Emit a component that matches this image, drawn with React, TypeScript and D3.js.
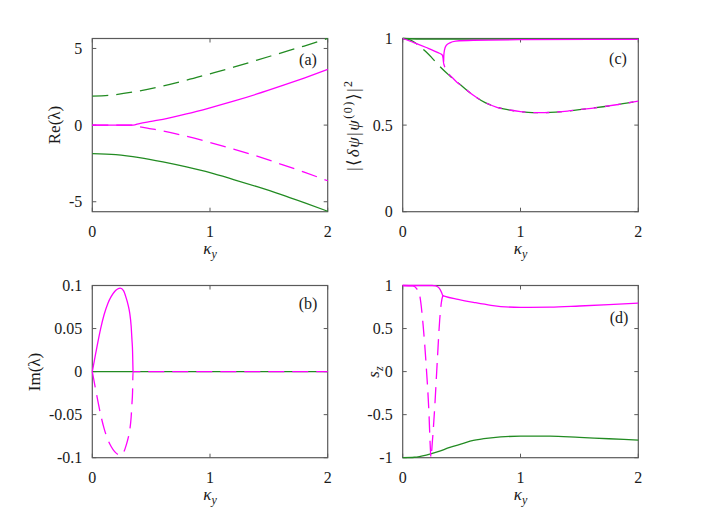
import * as d3 from 'd3'

// colours and fonts of the original plot
const MAGENTA = '#ff00ff'
const GREEN = '#228b22'
const FRAME = '#5a5a5a'
const FONT = "'Liberation Serif', 'Times New Roman', serif"
const INK = '#1a1a1a'

// shared x axis
const xTicks = [0, 1, 2]

// (a) Re(lambda)
const kReGreen = [0, 0.2, 0.4, 0.6, 0.8, 1.0, 1.2, 1.4, 1.6, 1.8, 2.0]
const reGreenUp = [1.89, 1.99, 2.23, 2.55, 2.93, 3.35, 3.78, 4.24, 4.7, 5.16, 5.65]
const reGreenDown = [-1.86, -1.93, -2.12, -2.4, -2.73, -3.1, -3.55, -4.02, -4.52, -5.06, -5.62]
const kReMag = [0, 0.1, 0.2, 0.3, 0.347, 0.4, 0.5, 0.6, 0.8, 1.0, 1.2, 1.4, 1.6, 1.8, 2.0]
const reMagUp = [0, 0, 0, 0, 0, 0.1, 0.24, 0.38, 0.73, 1.13, 1.56, 2.03, 2.54, 3.07, 3.63]
const reMagDown = [0, 0, 0, 0, 0, -0.1, -0.24, -0.38, -0.73, -1.13, -1.56, -2.03, -2.54, -3.07, -3.63]
const yTicksA = [-5, 0, 5]

// (b) Im(lambda)
const kImMag = [0, 0.03, 0.071, 0.1, 0.133, 0.16, 0.19, 0.215, 0.238, 0.265, 0.289, 0.305, 0.318, 0.33, 0.337, 0.342, 0.346]
const imMagUp = [0, 0.022, 0.05, 0.066, 0.0795, 0.087, 0.093, 0.096, 0.097, 0.094, 0.085, 0.077, 0.068, 0.053, 0.037, 0.024, 0]
const imMagDown = [0, -0.022, -0.05, -0.066, -0.0795, -0.087, -0.093, -0.096, -0.097, -0.094, -0.085, -0.077, -0.068, -0.053, -0.037, -0.024, 0]
const kImTail = [0.346, 1, 2]
const imTail = [0, 0, 0]
const kImGreen = [0, 1, 2]
const imGreen = [0, 0, 0]
const yTicksB = [-0.1, -0.05, 0, 0.05, 0.1]

// (c) overlap |<dpsi|psi0>|^2
const kOvGreenSolid = [0, 0.2, 1, 2]
const ovGreenSolid = [1, 0.996, 0.996, 0.996]
const kOvDash = [0, 0.05, 0.1, 0.15, 0.2, 0.25, 0.3, 0.35, 0.4, 0.45, 0.5, 0.6, 0.7, 0.8, 0.9, 1.0, 1.1, 1.2, 1.3, 1.4, 1.5, 1.6, 1.7, 1.8, 1.9, 2.0]
const ovGreenDash = [1, 0.995, 0.978, 0.952, 0.922, 0.887, 0.85, 0.815, 0.784, 0.755, 0.727, 0.672, 0.63, 0.603, 0.588, 0.578, 0.572, 0.572, 0.575, 0.581, 0.589, 0.597, 0.606, 0.616, 0.627, 0.638]
const kOvMagSolid = [0, 0.1, 0.2, 0.3, 0.336, 0.343, 0.347, 0.349, 0.355, 0.37, 0.4, 0.45, 0.6, 1.0, 2.0]
const ovMagSolid = [1, 0.975, 0.948, 0.918, 0.905, 0.885, 0.857, 0.9, 0.935, 0.96, 0.975, 0.985, 0.99, 0.993, 0.995]
const kOvMagDash = [0.347, 0.36, 0.38, 0.42, 0.46, 0.5, 0.6, 0.7, 0.8, 0.9, 1.0, 1.1, 1.2, 1.3, 1.4, 1.5, 1.6, 1.7, 1.8, 1.9, 2.0]
const ovMagDash = [0.857, 0.83, 0.805, 0.775, 0.748, 0.727, 0.672, 0.63, 0.603, 0.588, 0.578, 0.572, 0.572, 0.575, 0.581, 0.589, 0.597, 0.606, 0.616, 0.627, 0.638]
const yTicksC = [0, 0.5, 1]

// (d) s_z
const kSzMagSolid = [0, 0.25, 0.28, 0.31, 0.33, 0.34, 0.36, 0.47, 0.6, 0.75, 1.0, 1.25, 1.5, 1.75, 2.0]
const szMagSolid = [1, 1, 0.995, 0.97, 0.92, 0.885, 0.875, 0.84, 0.805, 0.77, 0.745, 0.748, 0.762, 0.778, 0.795]
const kSzMagDash = [0, 0.087, 0.12, 0.144, 0.172, 0.2, 0.223, 0.234, 0.24, 0.251, 0.272, 0.294, 0.314, 0.328, 0.338, 0.346]
const szMagDash = [1, 0.995, 0.96, 0.886, 0.56, 0.056, -0.485, -0.87, -1, -0.83, -0.41, 0.133, 0.6, 0.8, 0.87, 0.885]
const kSzGreen = [0, 0.1, 0.2, 0.3, 0.4, 0.5, 0.6, 0.75, 1.0, 1.25, 1.5, 1.75, 2.0]
const szGreen = [-1, -0.995, -0.97, -0.93, -0.88, -0.84, -0.8, -0.77, -0.75, -0.75, -0.765, -0.78, -0.795]
const yTicksD = [-1, -0.5, 0, 0.5, 1]

interface Series {
  k: number[]
  v: number[]
  color: string
  dashed?: boolean
  offset?: number
}

interface PanelProps {
  left: number
  right: number
  top: number
  bottom: number
  yDomain: [number, number]
  yTicks: number[]
  series: Series[]
  tag: string
  tagX: number
  tagY: number
}

const txt = { fontFamily: FONT }

function Panel({ left, right, top, bottom, yDomain, yTicks, series, tag, tagX, tagY }: PanelProps) {
  const x = d3.scaleLinear().domain([0, 2]).range([left, right])
  const y = d3.scaleLinear().domain(yDomain).range([bottom, top])
  const tick = 4

  const line = d3.line<[number, number]>()
    .x(d => x(d[0]))
    .y(d => y(d[1]))
    .curve(d3.curveMonotoneX)

  return (
    <g>
      <rect x={left} y={top} width={right - left} height={bottom - top}
        fill="none" stroke={FRAME} strokeWidth={1.2} />
      {/* ticks on all four sides, pointing in */}
      {xTicks.map(t => (
        <g key={'xt' + t}>
          <line x1={x(t)} x2={x(t)} y1={bottom} y2={bottom - tick} stroke={FRAME} />
          <line x1={x(t)} x2={x(t)} y1={top} y2={top + tick} stroke={FRAME} />
          <text x={x(t)} y={bottom + 20} dy="0.35em" textAnchor="middle"
            fontSize={16} style={txt} fill={INK}>{t}</text>
        </g>
      ))}
      {yTicks.map(t => (
        <g key={'yt' + t}>
          <line x1={left} x2={left + tick} y1={y(t)} y2={y(t)} stroke={FRAME} />
          <line x1={right} x2={right - tick} y1={y(t)} y2={y(t)} stroke={FRAME} />
          <text x={left - 10} y={y(t)} dy="0.35em" textAnchor="end"
            fontSize={16} style={txt} fill={INK}>{String(t)}</text>
        </g>
      ))}
      {series.map((s, i) => (
        <path key={i}
          d={line(s.k.map((k, j) => [k, s.v[j]] as [number, number])) ?? ''}
          fill="none" stroke={s.color} strokeWidth={1.3}
          strokeDasharray={s.dashed ? '16,8' : undefined}
          strokeDashoffset={s.offset ?? 0} />
      ))}
      <text x={tagX} y={tagY} dy="0.35em" textAnchor="middle"
        fontSize={16} style={txt} fill={INK}>{tag}</text>
      <text x={(left + right) / 2} y={bottom + 42} textAnchor="middle"
        fontSize={17} style={txt} fill={INK}>
        <tspan fontStyle="italic">κ</tspan>
        <tspan fontStyle="italic" fontSize={12} dy={4}>y</tspan>
      </text>
    </g>
  )
}

export default function App() {
  return (
    <svg width={705} height={520} style={{ position: 'absolute', left: 0, top: 0, background: '#fff' }}>
      <Panel left={92.3} right={327.7} top={38.5} bottom={211.7}
        yDomain={[-5.65, 5.65]} yTicks={yTicksA} tag="(a)" tagX={308} tagY={59}
        series={[
          { k: kReGreen, v: reGreenDown, color: GREEN },
          { k: kReGreen, v: reGreenUp, color: GREEN, dashed: true },
          { k: kReMag, v: reMagUp, color: MAGENTA },
          { k: kReMag, v: reMagDown, color: MAGENTA, dashed: true },
        ]} />
      <Panel left={92.3} right={327.7} top={285.5} bottom={457.7}
        yDomain={[-0.1, 0.1]} yTicks={yTicksB} tag="(b)" tagX={308} tagY={303}
        series={[
          { k: kImGreen, v: imGreen, color: GREEN },
          { k: kImMag, v: imMagUp, color: MAGENTA },
          { k: kImMag.concat(kImTail.slice(1)), v: imMagDown.concat(imTail.slice(1)), color: MAGENTA, dashed: true },
        ]} />
      <Panel left={402.7} right={638.3} top={38.5} bottom={211.7}
        yDomain={[0, 1]} yTicks={yTicksC} tag="(c)" tagX={618} tagY={58}
        series={[
          { k: kOvGreenSolid, v: ovGreenSolid, color: GREEN },
          { k: kOvDash, v: ovGreenDash, color: GREEN, dashed: true },
          { k: kOvMagSolid, v: ovMagSolid, color: MAGENTA },
          { k: kOvMagDash, v: ovMagDash, color: MAGENTA, dashed: true, offset: 12 },
        ]} />
      <Panel left={402.7} right={638.3} top={285.5} bottom={457.7}
        yDomain={[-1, 1]} yTicks={yTicksD} tag="(d)" tagX={619} tagY={317}
        series={[
          { k: kSzGreen, v: szGreen, color: GREEN },
          { k: kSzMagDash, v: szMagDash, color: MAGENTA, dashed: true },
          { k: kSzMagSolid, v: szMagSolid, color: MAGENTA },
        ]} />

      {/* y axis titles */}
      <text transform="translate(60,125) rotate(-90)" textAnchor="middle"
        fontSize={17} style={txt} fill={INK}>Re(λ)</text>
      <text transform="translate(40,372) rotate(-90)" textAnchor="middle"
        fontSize={17} style={txt} fill={INK}>Im(λ)</text>
      <text transform="translate(359,125) rotate(-90)" textAnchor="middle"
        fontSize={17} style={txt} fill={INK} letterSpacing={1.5}>
        <tspan>|⟨</tspan>
        <tspan fontStyle="italic">δψ</tspan>
        <tspan>|</tspan>
        <tspan fontStyle="italic">ψ</tspan>
        <tspan fontSize={12} dy={-7}>(0)</tspan>
        <tspan dy={7}>⟩|</tspan>
        <tspan fontSize={12} dy={-7}>2</tspan>
      </text>
      <text transform="translate(379,372) rotate(-90)" textAnchor="middle"
        fontSize={17} style={txt} fill={INK}>
        <tspan fontStyle="italic">s</tspan>
        <tspan fontStyle="italic" fontSize={12} dy={4}>z</tspan>
      </text>
    </svg>
  )
}
